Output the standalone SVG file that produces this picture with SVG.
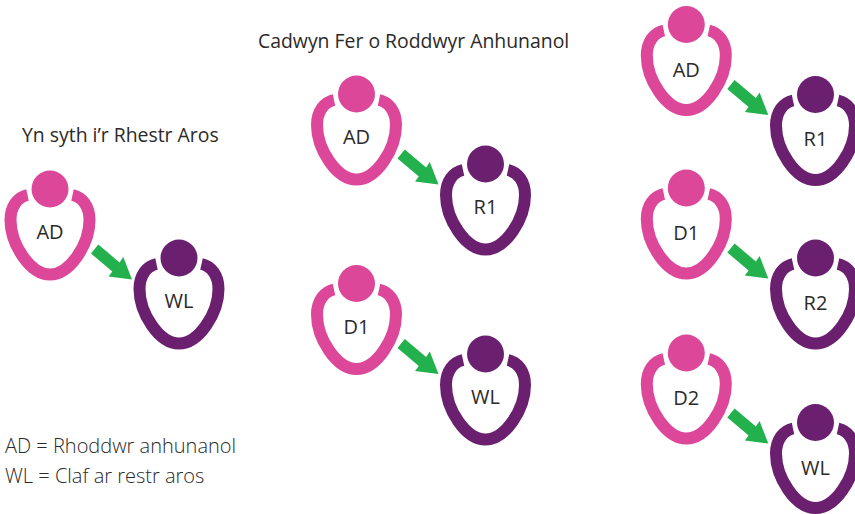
<svg xmlns="http://www.w3.org/2000/svg" width="855" height="514" viewBox="0 0 855 514">
<style>
text{font-family:"Open Sans","Noto Sans","Liberation Sans",sans-serif;font-size:19.4px;fill:#2b2a29}
.l{text-anchor:middle;font-size:20px}
.k{font-weight:300;font-size:20px}
.b{fill:none;stroke:currentColor;stroke-width:12}
.h{fill:currentColor}
.p{color:#dc4799}
.u{color:#6b206f}
.a{fill:#22b14c}
</style>
<defs>
<g id="body"><path class="b" d="M-22.5 6C-32 8-39.5 17-39.5 31C-39.5 55-20 85.5 0 85.5C20 85.5 39.5 55 39.5 31C39.5 17 32 8 22.5 6"/><circle class="h" r="18.5"/></g>
<polygon id="arrow" points="41,64.5 48.3,55.5 69.6,73.5 73.3,68 82,90.5 58.5,87.5 62.3,82.5"/>
</defs>
<text x="22" y="142">Yn syth i’r Rhestr Aros</text>
<text x="258" y="48">Cadwyn Fer o Roddwyr Anhunanol</text>
<text class="k" x="5" y="452.5">AD = Rhoddwr anhunanol</text>
<text class="k" x="5" y="482.5">WL = Claf ar restr aros</text>
<g id="connectors" class="a">
<use href="#arrow" x="50" y="189"/>
<use href="#arrow" x="356.5" y="94"/>
<use href="#arrow" x="356.5" y="283.5"/>
<use href="#arrow" x="686.3" y="24.5"/>
<use href="#arrow" x="686.3" y="188"/>
<use href="#arrow" x="686.3" y="353"/>
</g>
<g id="n1" class="p"><use href="#body" x="50" y="189"/><text class="l" x="50" y="239">AD</text></g>
<g id="n2" class="u"><use href="#body" x="179" y="258"/><text class="l" x="179" y="308">WL</text></g>
<g id="n3" class="p"><use href="#body" x="356.5" y="94"/><text class="l" x="356.5" y="144">AD</text></g>
<g id="n4" class="u"><use href="#body" x="485.5" y="164"/><text class="l" x="485.5" y="214">R1</text></g>
<g id="n5" class="p"><use href="#body" x="356.5" y="283.5"/><text class="l" x="356.5" y="334">D1</text></g>
<g id="n6" class="u"><use href="#body" x="485.5" y="354"/><text class="l" x="485.5" y="404">WL</text></g>
<g id="n7" class="p"><use href="#body" x="686.3" y="24.5"/><text class="l" x="686.3" y="77">AD</text></g>
<g id="n8" class="u"><use href="#body" x="815.5" y="94.5"/><text class="l" x="815.5" y="146">R1</text></g>
<g id="n9" class="p"><use href="#body" x="686.3" y="188"/><text class="l" x="686.3" y="240">D1</text></g>
<g id="n10" class="u"><use href="#body" x="815.5" y="258"/><text class="l" x="815.5" y="310">R2</text></g>
<g id="n11" class="p"><use href="#body" x="686.3" y="353"/><text class="l" x="686.3" y="405">D2</text></g>
<g id="n12" class="u"><use href="#body" x="815.5" y="422.5"/><text class="l" x="815.5" y="475">WL</text></g>
</svg>
